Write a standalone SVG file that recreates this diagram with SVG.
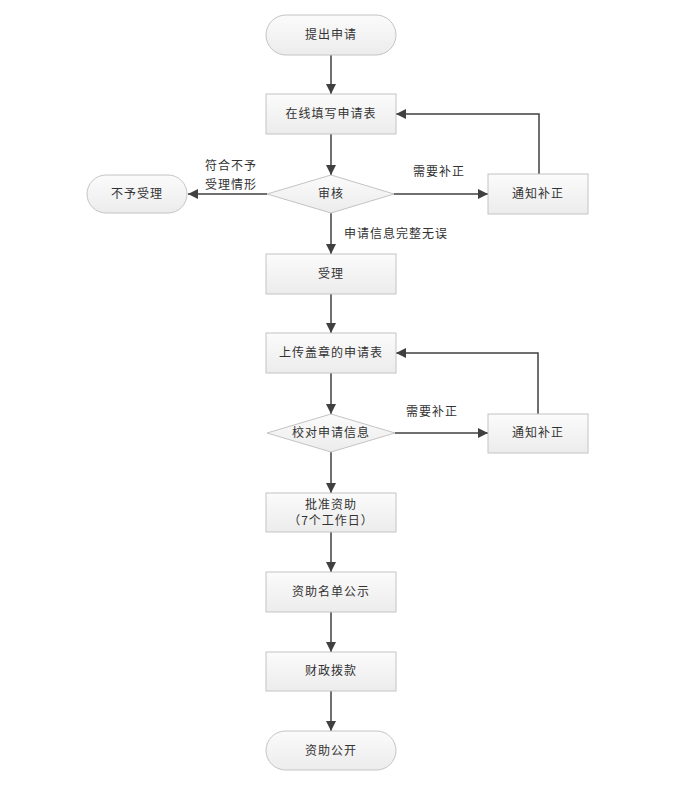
<svg xmlns="http://www.w3.org/2000/svg" width="680" height="793" viewBox="0 0 680 793">
<defs>
<linearGradient id="g" x1="0" y1="0" x2="0" y2="1">
<stop offset="0" stop-color="#fbfbfb"/>
<stop offset="1" stop-color="#ececec"/>
</linearGradient>
<marker id="ah" viewBox="0 0 10 10" refX="10" refY="5" markerWidth="10" markerHeight="10" markerUnits="userSpaceOnUse" orient="auto">
<path d="M0,0 L10,5 L0,10 z" fill="#404040"/>
</marker>
</defs>
<style>
.n{fill:url(#g);stroke:#c4c4c4;stroke-width:1}
.t{font-family:"Noto Sans CJK SC","Noto Sans",sans-serif;font-size:12px;fill:#333;text-anchor:middle;letter-spacing:1px}
.l{font-family:"Noto Sans CJK SC","Noto Sans",sans-serif;font-size:12px;fill:#333;letter-spacing:1px}
.c{fill:none;stroke:#404040;stroke-width:1.5;marker-end:url(#ah)}
</style>
<rect width="680" height="793" fill="#fff"/>
<g id="connectors">
<path class="c" d="M331,55 V94"/>
<path class="c" d="M331,134 V175"/>
<path class="c" d="M267,194 H188"/>
<path class="c" d="M394,194 H488"/>
<path class="c" d="M539,174 V114 H396"/>
<path class="c" d="M331,213 V254"/>
<path class="c" d="M331,294 V333"/>
<path class="c" d="M331,373 V414"/>
<path class="c" d="M395,433 H488"/>
<path class="c" d="M538,414 V353 H396"/>
<path class="c" d="M331,452 V493"/>
<path class="c" d="M331,532 V572"/>
<path class="c" d="M331,612 V652"/>
<path class="c" d="M331,691 V731"/>
</g>
<g id="labels">
<text class="l" x="205" y="170">符合不予</text>
<text class="l" x="205" y="189">受理情形</text>
<text class="l" x="413" y="176">需要补正</text>
<text class="l" x="344" y="238">申请信息完整无误</text>
<text class="l" x="406" y="416">需要补正</text>
</g>
<g id="start"><rect class="n" x="266" y="15" width="130" height="40" rx="20"/><text class="t" x="331" y="39">提出申请</text></g>
<g id="fill"><rect class="n" x="266" y="94" width="130" height="40"/><text class="t" x="331" y="118">在线填写申请表</text></g>
<g id="review"><polygon class="n" points="331,175 394,194 331,213 267,194"/><text class="t" x="331" y="198">审核</text></g>
<g id="reject"><rect class="n" x="87" y="175" width="100" height="38" rx="19"/><text class="t" x="137" y="198">不予受理</text></g>
<g id="notify1"><rect class="n" x="488" y="174" width="100" height="40"/><text class="t" x="538" y="198">通知补正</text></g>
<g id="accept"><rect class="n" x="266" y="254" width="130" height="40"/><text class="t" x="331" y="278">受理</text></g>
<g id="upload"><rect class="n" x="266" y="333" width="130" height="40"/><text class="t" x="331" y="357">上传盖章的申请表</text></g>
<g id="check"><polygon class="n" points="331,414 395,433 331,452 267,433"/><text class="t" x="331" y="437">校对申请信息</text></g>
<g id="notify2"><rect class="n" x="488" y="414" width="100" height="39"/><text class="t" x="538" y="437">通知补正</text></g>
<g id="approve"><rect class="n" x="266" y="493" width="130" height="39"/><text class="t" x="331" y="509">批准资助</text><text class="t" x="331" y="525">（7个工作日）</text></g>
<g id="publicize"><rect class="n" x="266" y="572" width="130" height="40"/><text class="t" x="331" y="596">资助名单公示</text></g>
<g id="fund"><rect class="n" x="266" y="652" width="130" height="39"/><text class="t" x="331" y="675">财政拨款</text></g>
<g id="end"><rect class="n" x="266" y="731" width="130" height="39" rx="19.5"/><text class="t" x="331" y="755">资助公开</text></g>
</svg>
